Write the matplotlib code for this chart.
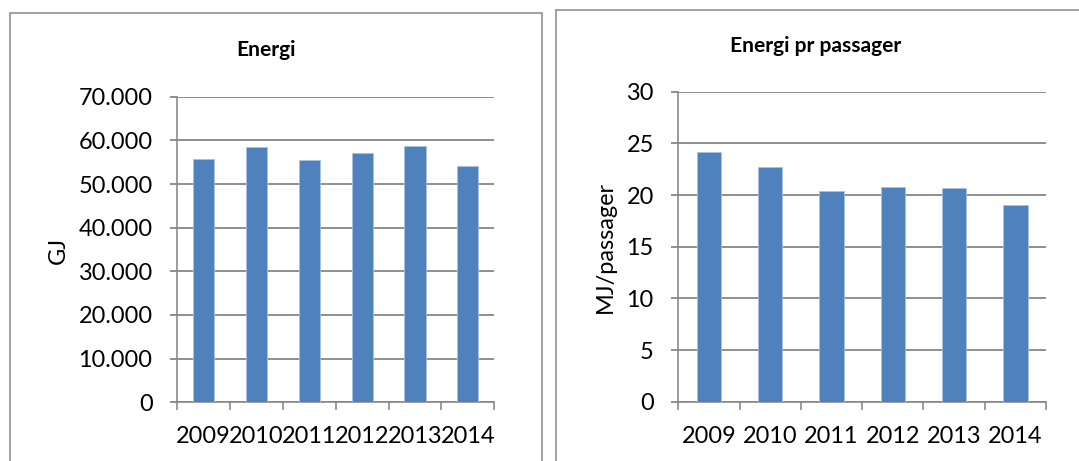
import matplotlib
matplotlib.use("Agg")
import matplotlib.pyplot as plt
from matplotlib.patches import Rectangle
from matplotlib.ticker import FuncFormatter, FixedLocator

# data
aar = ["2009", "2010", "2011", "2012", "2013", "2014"]
energi_gj = [55800, 58500, 55500, 57200, 58650, 54200]
mj_pr_passager = [24.2, 22.7, 20.4, 20.8, 20.7, 19.0]

plt.rcParams["font.family"] = ["Lato", "DejaVu Sans"]

W, H = 1079, 461
fig = plt.figure(figsize=(W / 100, H / 100), dpi=100)

BLAA = "#4f81bd"
GRAA = "#868686"
TEKST = 23.5  # tick/label size, px
TITTEL = 21


def px(v):
    # pixels -> points at dpi 100
    return v * 0.72


def ramme(x0, y0, x1):
    # grey frame round each chart, runs off the bottom of the figure
    r = Rectangle((x0 / W, -0.2), (x1 - x0) / W, 1.2 - y0 / H,
                  transform=fig.transFigure, fill=False,
                  edgecolor="#8c8c8c", linewidth=px(1.6), clip_on=False)
    fig.add_artist(r)


def stolper(rect, verdier, ymax, steg, fmt):
    ax = fig.add_axes(rect)
    x = list(range(len(aar)))
    ax.bar(x, verdier, width=0.4, color=BLAA, edgecolor="#a9c2e3",
           linewidth=px(0.8), zorder=3)
    ax.set_xlim(-0.5, len(aar) - 0.5)
    ax.set_ylim(0, ymax)
    ax.yaxis.set_major_locator(FixedLocator([i * steg for i in range(int(ymax / steg) + 1)]))
    ax.yaxis.set_major_formatter(FuncFormatter(fmt))
    ax.grid(axis="y", color=GRAA, linewidth=px(1.8), zorder=0)
    ax.set_axisbelow(True)

    ax.set_xticks([i - 0.5 for i in range(len(aar) + 1)])
    ax.set_xticklabels([])
    ax.set_xticks(x, minor=True)
    ax.set_xticklabels(aar, minor=True)
    ax.tick_params(axis="x", which="major", length=px(8), width=px(1.6),
                   color=GRAA, direction="out")
    ax.tick_params(axis="x", which="minor", length=0, pad=px(24),
                   labelsize=px(TEKST), labelcolor="black")
    ax.tick_params(axis="y", length=px(7.5), width=px(1.8), color=GRAA,
                   pad=px(17), labelsize=px(TEKST), labelcolor="black")

    for s in ["top", "right"]:
        ax.spines[s].set_visible(False)
    for s in ["left", "bottom"]:
        ax.spines[s].set_color(GRAA)
        ax.spines[s].set_linewidth(px(1.6))
    return ax


def tusen(v, pos):
    return f"{v:,.0f}".replace(",", ".")


def heltall(v, pos):
    return f"{v:.0f}"


# venstre: Energi
ramme(10, 13, 542)
stolper([177 / W, 1 - 402.3 / H, (494.3 - 177) / W, (402.3 - 96.7) / H],
        energi_gj, 70000, 10000, tusen)
fig.text(266.5 / W, 1 - 56 / H, "Energi", ha="center", va="baseline",
         fontsize=px(TITTEL), fontweight="bold")
fig.text(58 / W, 1 - 250 / H, "GJ", ha="center", va="center",
         rotation=90, fontsize=px(TEKST))

# hoyre: Energi pr passager
ramme(556, 10, 1100)
stolper([678.3 / W, 1 - 401.7 / H, (1046 - 678.3) / W, (401.7 - 91.7) / H],
        mj_pr_passager, 30, 5, heltall)
fig.text(815.5 / W, 1 - 51.7 / H, "Energi pr passager", ha="center",
         va="baseline", fontsize=px(TITTEL), fontweight="bold")
fig.text(605 / W, 1 - 247 / H, "MJ/passager", ha="center", va="center",
         rotation=90, fontsize=px(TEKST))

fig.savefig("out.png", dpi=100, facecolor="white")
